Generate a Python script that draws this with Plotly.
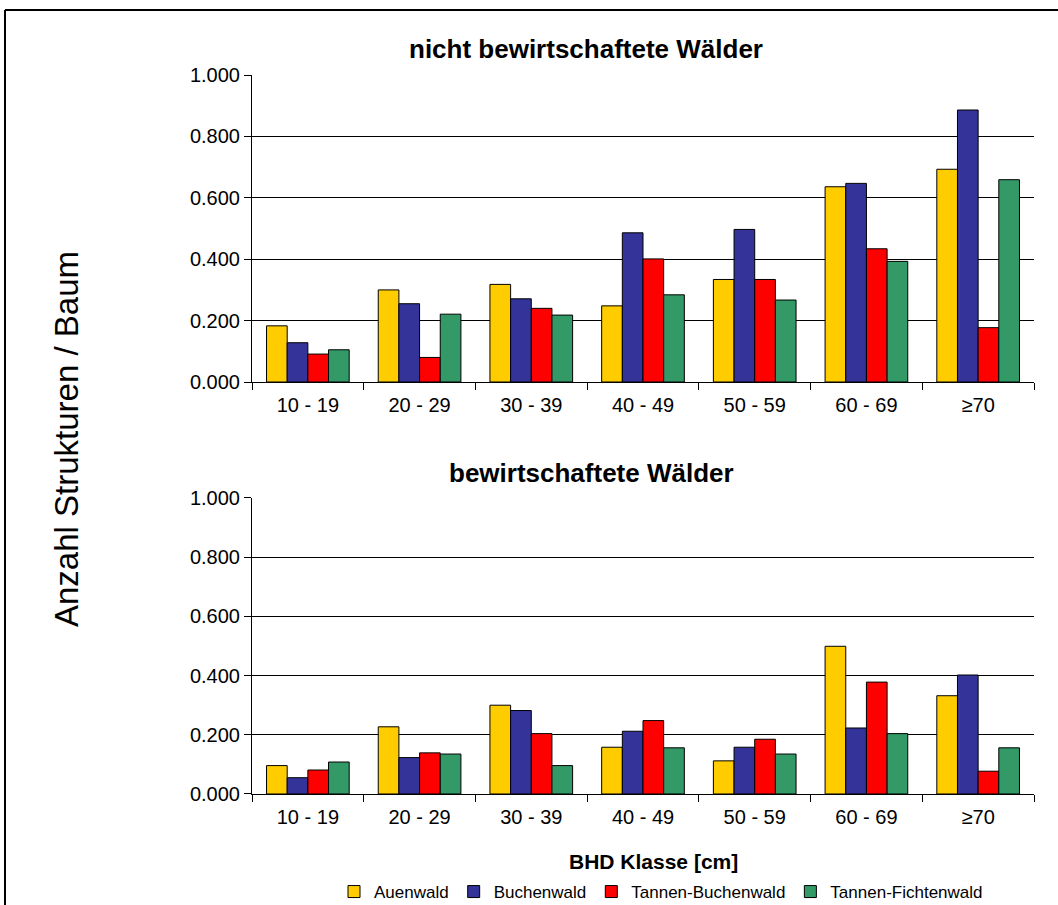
import plotly.graph_objects as go
from plotly.subplots import make_subplots

categories = ["10 - 19", "20 - 29", "30 - 39", "40 - 49", "50 - 59", "60 - 69", "≥70"]
series_names = ["Auenwald", "Buchenwald", "Tannen-Buchenwald", "Tannen-Fichtenwald"]
colors = ["#FFCC00", "#333399", "#FF0000", "#339966"]

# nicht bewirtschaftete Wälder
unmanaged_auenwald = [0.183, 0.300, 0.318, 0.248, 0.334, 0.636, 0.693]
unmanaged_buchenwald = [0.128, 0.255, 0.271, 0.486, 0.497, 0.647, 0.886]
unmanaged_tannen_buchenwald = [0.091, 0.080, 0.240, 0.401, 0.334, 0.434, 0.177]
unmanaged_tannen_fichtenwald = [0.105, 0.221, 0.218, 0.284, 0.267, 0.393, 0.659]

# bewirtschaftete Wälder
managed_auenwald = [0.096, 0.227, 0.300, 0.158, 0.112, 0.499, 0.332]
managed_buchenwald = [0.055, 0.123, 0.282, 0.212, 0.158, 0.223, 0.402]
managed_tannen_buchenwald = [0.081, 0.139, 0.204, 0.248, 0.185, 0.378, 0.077]
managed_tannen_fichtenwald = [0.108, 0.135, 0.096, 0.156, 0.135, 0.204, 0.156]

unmanaged = [unmanaged_auenwald, unmanaged_buchenwald, unmanaged_tannen_buchenwald, unmanaged_tannen_fichtenwald]
managed = [managed_auenwald, managed_buchenwald, managed_tannen_buchenwald, managed_tannen_fichtenwald]

FONT = "Liberation Sans, Arial, sans-serif"

W, H = 1058, 905

fig = make_subplots(rows=2, cols=1, vertical_spacing=0.1613)

for i, name in enumerate(series_names):
    fig.add_trace(go.Bar(x=categories, y=unmanaged[i], name=name, marker_color=colors[i],
                         marker_line_color="#000000", marker_line_width=1,
                         legendgroup=name, showlegend=True), row=1, col=1)
    fig.add_trace(go.Bar(x=categories, y=managed[i], name=name, marker_color=colors[i],
                         marker_line_color="#000000", marker_line_width=1,
                         legendgroup=name, showlegend=False), row=2, col=1)

fig.update_layout(
    width=W, height=H, autosize=False,
    margin=dict(l=252, r=24, t=75, b=H - 794, pad=0),
    paper_bgcolor="white", plot_bgcolor="white",
    barmode="group", bargap=0.26, bargroupgap=0,
    font=dict(family=FONT, size=20, color="#000000"),
    showlegend=True,
    legend=dict(orientation="h", xref="container", yref="container",
                x=(661 / W), xanchor="center", y=(H - 892) / H, yanchor="middle",
                font=dict(size=17, family=FONT), itemwidth=30, tracegroupgap=0,
                bgcolor="rgba(0,0,0,0)"),
)

fig.update_layout(
    yaxis=dict(domain=[0.573, 1.0]),
    yaxis2=dict(domain=[0.0, 0.4117]),
)

for r in (1, 2):
    fig.update_xaxes(row=r, col=1, showline=True, linecolor="#000000", linewidth=1,
                     ticks="outside", tickson="boundaries", ticklen=7, tickcolor="#000000",
                     ticklabelstandoff=5,
                     showgrid=False, tickfont=dict(size=20, family=FONT), mirror=False)
    fig.update_yaxes(row=r, col=1, range=[0, 1.0], dtick=0.2, tick0=0, tickformat=".3f",
                     showline=True, linecolor="#000000", linewidth=1,
                     ticks="outside", ticklen=7, tickcolor="#000000",
                     showgrid=True, gridcolor="#000000", gridwidth=1,
                     zeroline=False, tickfont=dict(size=20, family=FONT))

annotations = [
    dict(text="<b>nicht bewirtschaftete Wälder</b>", x=0.4265, y=(794 - 49) / 719, xref="paper", yref="paper",
         showarrow=False, font=dict(size=26, family=FONT), xanchor="center", yanchor="middle"),
    dict(text="<b>bewirtschaftete Wälder</b>", x=0.434, y=(794 - 473) / 719, xref="paper", yref="paper",
         showarrow=False, font=dict(size=26, family=FONT), xanchor="center", yanchor="middle"),
    dict(text="<b>BHD Klasse [cm]</b>", x=0.5128, y=(794 - 861) / 719, xref="paper", yref="paper",
         showarrow=False, font=dict(size=21, family=FONT), xanchor="center", yanchor="middle"),
    dict(text="Anzahl Strukturen / Baum", x=(66 - 252) / 782, y=(794 - 439) / 719,
         xref="paper", yref="paper", textangle=-90, showarrow=False,
         font=dict(size=33, family=FONT), xanchor="center", yanchor="middle"),
]
fig.update_layout(annotations=annotations)

# outer frame: only the top and left edges are visible in the picture
fx0, fy_top = (5 - 252) / 782, (794 - 10) / 719
fig.add_shape(type="line", xref="paper", yref="paper",
              x0=fx0, x1=(1070 - 252) / 782, y0=fy_top, y1=fy_top,
              line=dict(color="#000000", width=2), layer="below")
fig.add_shape(type="line", xref="paper", yref="paper",
              x0=fx0, x1=fx0, y0=fy_top, y1=(794 - 920) / 719,
              line=dict(color="#000000", width=2), layer="below")

post = """
document.body.style.margin = '0';
document.body.style.padding = '0';
document.documentElement.style.overflow = 'hidden';
document.body.style.overflow = 'hidden';
"""

fig.write_html("out.html", post_script=post,
               config={"responsive": False, "displayModeBar": False})
